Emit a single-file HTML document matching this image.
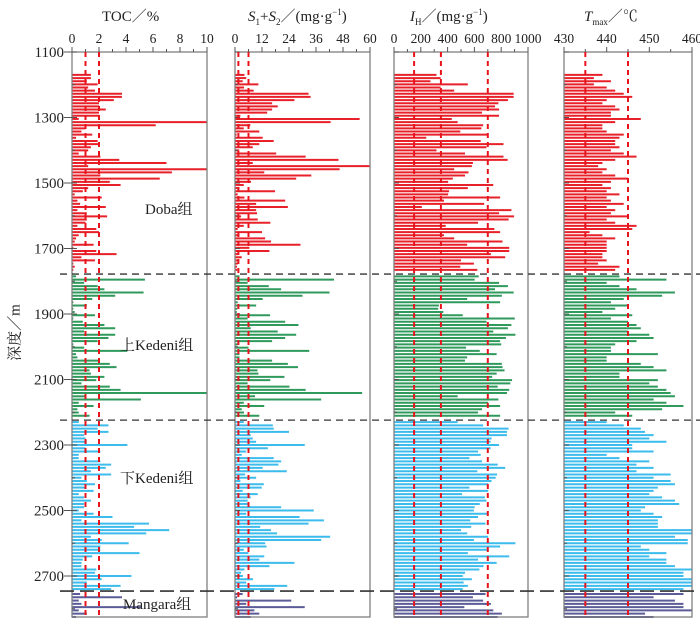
<!DOCTYPE html>
<html><head><meta charset="utf-8">
<style>
body{margin:0;background:#fff;}
svg{display:block;font-family:"Liberation Serif","Noto Serif CJK SC",serif;}
</style></head>
<body>
<svg id="chart" width="700" height="620" viewBox="0 0 700 620"></svg>
<script>
// ---- data ----
const formations = ["Doba组","上Kedeni组","下Kedeni组","Mangara组"];
const formationTops = [1170, 1785, 2230, 2755];
const formationSteps = [9.6, 9.9, 10, 10];
const boundaryDepths = [1778, 2224, 2746];
const yTicks = [1100,1300,1500,1700,1900,2100,2300,2500,2700];

const tocDoba = [1.4,1.4,1.1,1.9,1.2,1.7,3.7,3.7,3.1,2,2,2.5,2,2,0.5,10,6.2,1,0.7,1.5,0.3,1.9,2,1.4,1.2,0.5,2.1,3.5,7,1.2,10,7.4,2.1,6.5,2.8,3.6,1.2,0.8,0.2,2.2,0.4,0.6,2.5,0.4,1.1,2.6,1.1,1,0.4,1.8,2,0.5,0.3,0.2,1.6,0.1,1.8,3.3,0.7,1.7,0.1,0.2,0.1];
const tocUK = [0.3,5.4,0.9,1.9,2.4,5.3,3.2,1.5,0.1,1.1,0.1,0.2,1.7,0.1,0.8,2.4,3.2,0.9,3.2,2.7,1.9,0.1,0.9,4.1,0.3,0.4,2,2.8,3.3,1.3,1.4,2.4,1.8,0.7,2.8,3.6,10,1,5.1,0.5,1.6,0.4,0.5,1.3];
const tocLK = [0.5,2.7,1.9,2.7,0.9,1,1.1,4.1,1,2.1,0.5,0.5,2.1,2.9,2.5,1.4,2.9,0.7,1.1,1.7,1,1.6,0.5,0.9,1.4,0.9,0.9,0.5,1.6,3,0.7,5.7,4.6,7.2,5.5,1.4,2.2,4.2,2.1,2.1,5,1.5,0.8,0.7,0.7,1.8,1.7,4.4,2.2,1.1,3.6,2.9];
const tocMG = [0.6,3.7,0.5,0.7,5.1,0.5,1.1,0.3];

const s12Doba = [4.2,5,3.4,10.4,4,8.3,32.7,33.6,26.4,16.5,19,16.5,14.3,2.4,55.4,42.5,6.8,3.9,10.8,0.7,12.3,17.2,10.8,7.9,1.9,18.3,31.4,46,7.9,60,46.5,13,33.9,27.2,7.1,3.9,2,17.8,1.2,4.2,22.3,9.4,23.5,9.4,9.8,2.7,10.1,15.7,3.9,1.2,12,2,13.4,16,29.1,6.4,15.3,1.5,3,1.9,1.2,0.9,1];
const s12UK = [2,44,5.6,15,20.5,42,30,12.3,1.2,9.4,1,0.8,15.6,5.6,22.3,28.2,7,19,27.2,22.3,16.5,1.2,6,33,2,2,16.5,23.5,28,10,10.4,22,15.7,5.6,24.2,31.4,56.5,8.9,38.3,3.9,13,3,4,10.8];
const s12LK = [3.9,16.8,17.2,24,7,7.9,9.4,31,14.6,5,3,17.2,20.5,19.3,12.3,23,4.5,9.4,2.4,12.8,11.9,3.4,10.1,7,5.6,6,20.5,35,5,28.7,39.5,32.7,11.2,16,18.7,42.3,38.3,13.4,14,3.9,6,13,10.8,26.4,15.3,4.2,2.7,3.5,8,5,23.2,17.5];
const s12MG = [3.4,1,25,5,31,8.6,10.8,7];

const ihDoba = [317,348,272,551,348,449,893,893,850,779,754,784,657,784,431,475,665,652,495,698,241,647,817,690,317,530,817,848,589,581,449,556,530,439,404,741,551,411,404,792,373,673,208,876,784,896,855,627,386,749,792,373,449,810,546,860,860,723,830,500,596,495,622];
const ihUK = [632,602,784,850,754,893,805,546,792,335,330,368,513,901,690,876,850,741,906,835,792,800,538,640,766,546,530,805,810,825,766,733,881,868,774,860,843,475,779,703,792,657,627,792];
const ihLK = [475,665,855,843,843,728,721,784,721,627,647,563,657,774,830,622,769,759,728,703,563,703,508,678,690,640,602,596,703,627,569,683,576,500,546,703,596,906,792,703,551,860,627,766,668,637,530,513,581,520,551,513];
const ihMG = [683,589,665,723,525,741,805,774];

const tmDoba = [439,437,441,437,440,442,444,446,440,439,442,443,441,441,448,442,439,439,440,444,443,442,442,443,441,444,447,442,439,438,440,439,442,445,441,439,441,440,443,440,441,444,440,442,441,445,440,442,447,446,436,439,442,440,440,440,440,439,439,440,438,443,442];
const tmUK = [443,454,440,443,447,456,453,444,441,445,442,439,446,441,445,447,448,445,450,451,447,442,441,441,452,440,440,448,451,454,443,443,452,450,452,454,455,456,451,454,458,453,442,446];
const tmLK = [440,444,448,449,451,450,454,446,446,451,440,443,450,447,451,447,455,451,455,456,452,451,450,453,456,457,449,448,451,453,452,452,452,460,460,456,459,459,448,450,454,450,454,454,456,460,458,458,460,460,460,458];
const tmMG = [458,451,456,458,458,460,449,451];

const colors = ["#e8202a","#2f9a5c","#3cbcec","#5c5c98"];

// ---- layout ----
const NS="http://www.w3.org/2000/svg";
const svg=document.getElementById('chart');
const yTop=52, yBot=617, d0=1100, pxPerM=0.3275;
function yScale(d){return yTop+(d-d0)*pxPerM;}
function mk(tag,attrs,parent){const e=document.createElementNS(NS,tag);for(const k in attrs)e.setAttribute(k,attrs[k]);(parent||svg).appendChild(e);return e;}

const panels=[
 {name:'toc',x0:72,x1:207,min:0,max:10,major:2,minor:1,refs:[1,2],series:[tocDoba,tocUK,tocLK,tocMG],labels:[0,2,4,6,8,10]},
 {name:'s1s2',x0:235,x1:370,min:0,max:60,major:12,minor:6,refs:[1.5,6],series:[s12Doba,s12UK,s12LK,s12MG],labels:[0,12,24,36,48,60]},
 {name:'ih',x0:394,x1:528,min:0,max:1000,major:200,minor:100,refs:[150,350,700],series:[ihDoba,ihUK,ihLK,ihMG],labels:[0,200,400,600,800,1000]},
 {name:'tmax',x0:564,x1:692,min:430,max:460,major:10,minor:5,refs:[435,445],series:[tmDoba,tmUK,tmLK,tmMG],labels:[430,440,450,460]}
];

panels.forEach(p=>{
  const xs=v=>p.x0+(v-p.min)/(p.max-p.min)*(p.x1-p.x0);
  const g=mk('g',{});
  
  
  p.series.forEach((arr,fi)=>{
    arr.forEach((v,i)=>{
      const d=formationTops[fi]+i*formationSteps[fi];
      const y=yScale(d);
      const l=mk('line',{x1:p.x0,x2:xs(v),y1:y,y2:y,stroke:colors[fi],'stroke-width':2},g);
      
      
    });
  });
  const r=mk('rect',{x:p.x0,y:yTop,width:p.x1-p.x0,height:yBot-yTop,fill:'none',stroke:'#808080','stroke-width':1.3},g);
  
  
  for(let v=p.min;v<=p.max+1e-9;v+=p.minor){
    const major=Math.abs(((v-p.min)/p.major)-Math.round((v-p.min)/p.major))<1e-6;
    mk('line',{x1:xs(v),x2:xs(v),y1:yTop,y2:yTop-(major?5:3),stroke:'#555','stroke-width':1},g);
  }
  p.labels.forEach(v=>{
    const t=mk('text',{x:xs(v),y:43,'text-anchor':'middle','font-size':13.5,fill:'#222'},g);
    t.textContent=v;
    
    
  });
  for(let d=1100;d<=2800;d+=100){
    const y=yScale(d);
    mk('line',{x1:p.x0,x2:p.x0+(d%200===100?5:3),y1:y,y2:y,stroke:'#555','stroke-width':1},g);
  }
  p.refs.forEach(v=>{
    const l=mk('line',{x1:xs(v),x2:xs(v),y1:yTop,y2:yBot,stroke:'#e8141c','stroke-width':2,'stroke-dasharray':'5,4'},g);
    
    
  });
});

yTicks.forEach(d=>{
  const t=mk('text',{x:64,y:yScale(d)+5,'text-anchor':'end','font-size':15,fill:'#222'});
  t.textContent=d;
  
  
  mk('line',{x1:64,x2:72,y1:yScale(d),y2:yScale(d),stroke:'#555'});
});

boundaryDepths.forEach((d,i)=>{
  const y=yScale(d);
  const l=mk('line',{x1:60,x2:700,y1:y,y2:y,stroke:'#333','stroke-width':i===2?1.6:1.3,'stroke-dasharray':i===2?'14,6':'7,5'});
  
  
});

const labPos=[[145,214],[120,350],[120,483],[123,609]];
formations.forEach((f,i)=>{
  const t=mk('text',{x:labPos[i][0],y:labPos[i][1],'font-size':15,fill:'#222'});
  t.textContent=f;
  
  
});
</script>
<div style="position:absolute;left:0;top:0;width:700px;height:30px;font-family:'Liberation Serif','Noto Serif CJK SC',serif;font-size:15px;color:#222;">
  <span style="position:absolute;left:102px;top:5px;">TOC／%</span>
  <span style="position:absolute;left:248px;top:5px;"><i>S</i><sub style="font-size:9px">1</sub>+<i>S</i><sub style="font-size:9px">2</sub>／(mg·g<sup style="font-size:9px">−1</sup>)</span>
  <span style="position:absolute;left:410px;top:5px;"><i>I</i><sub style="font-size:9px">H</sub>／(mg·g<sup style="font-size:9px">−1</sup>)</span>
  <span style="position:absolute;left:584px;top:5px;"><i>T</i><sub style="font-size:9px">max</sub>／℃</span>
</div>
<div style="position:absolute;left:-16px;top:322px;width:60px;text-align:center;transform:rotate(-90deg);font-family:'Liberation Serif','Noto Serif CJK SC',serif;font-size:15px;color:#222;">深度／m</div>
</body></html>
